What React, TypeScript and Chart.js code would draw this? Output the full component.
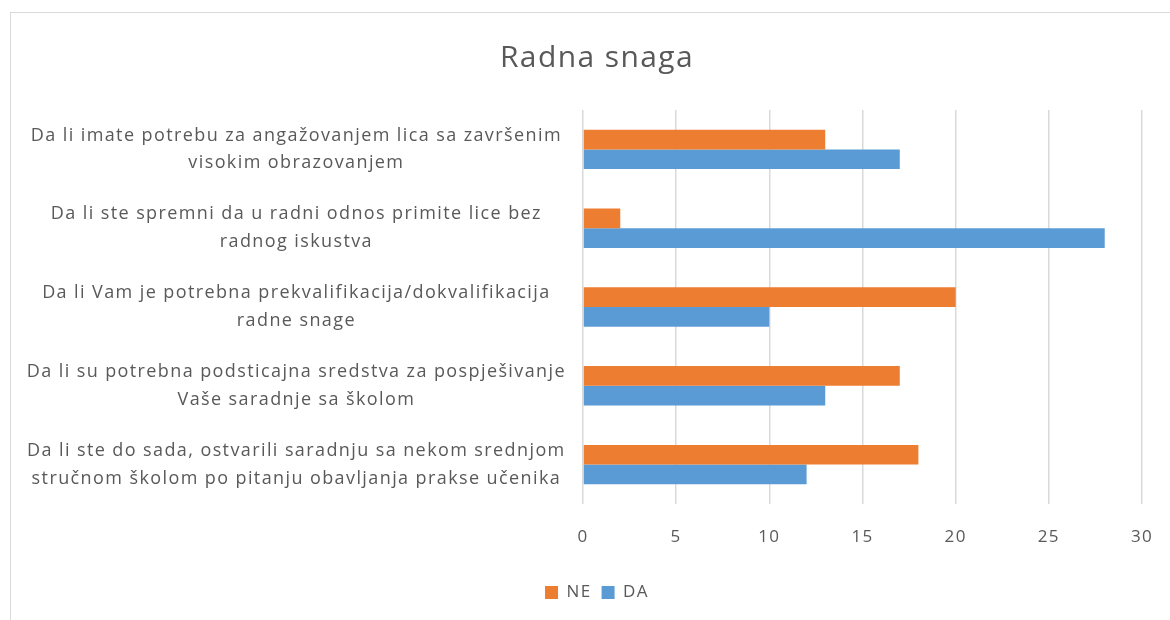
import React, { useEffect, useRef } from "react";
import { Chart, registerables } from "chart.js";

Chart.register(...registerables);

const titleText = "Radna snaga";
const categories: string[][] = [
  ["Da li imate potrebu za angažovanjem lica sa završenim", "visokim obrazovanjem"],
  ["Da li ste spremni da u radni odnos primite lice bez", "radnog iskustva"],
  ["Da li Vam je potrebna prekvalifikacija/dokvalifikacija", "radne snage"],
  ["Da li su potrebna podsticajna sredstva za pospješivanje", "Vaše saradnje sa školom"],
  ["Da li ste do sada, ostvarili saradnju sa nekom srednjom", "stručnom školom po pitanju obavljanja prakse učenika"],
];
const neValues = [13, 2, 20, 17, 18];
const daValues = [17, 28, 10, 13, 12];
const seriesNames = ["NE", "DA"];
const axisMin = 0;
const axisMax = 30;
const axisStep = 5;

const FONT = "'Open Sans', 'Noto Sans', sans-serif";
const TEXT = "#595959";
const GRID = "#d9d9d9";
const LETTER_SPACING = "1.4px";

const spacingPlugin = {
  id: "letterSpacing",
  beforeUpdate(chart: any) {
    chart.ctx.letterSpacing = LETTER_SPACING;
  },
  beforeDraw(chart: any) {
    chart.ctx.letterSpacing = LETTER_SPACING;
  },
};

export default function App() {
  const ref = useRef<HTMLCanvasElement | null>(null);

  useEffect(() => {
    if (!ref.current) return;
    const chart = new Chart(ref.current, {
      type: "bar",
      data: {
        labels: categories,
        datasets: [
          {
            label: seriesNames[0],
            data: neValues,
            backgroundColor: "#ED7D31",
            categoryPercentage: 0.5,
            barPercentage: 1.0,
          },
          {
            label: seriesNames[1],
            data: daValues,
            backgroundColor: "#5B9BD5",
            categoryPercentage: 0.5,
            barPercentage: 1.0,
          },
        ],
      },
      plugins: [spacingPlugin],
      options: {
        indexAxis: "y",
        responsive: false,
        animation: false,
        devicePixelRatio: 1,
        layout: { padding: { left: 52, right: 28, top: 0, bottom: 9 } },
        plugins: {
          title: {
            display: true,
            text: titleText,
            color: TEXT,
            font: { family: FONT, size: 30, weight: "normal" },
            padding: { top: 40, bottom: 34 },
          },
          legend: {
            position: "bottom",
            labels: {
              color: TEXT,
              font: { family: FONT, size: 17 },
              boxWidth: 13,
              boxHeight: 13,
              padding: 10,
            },
          },
          tooltip: { enabled: false },
        },
        scales: {
          x: {
            min: axisMin,
            max: axisMax,
            ticks: {
              stepSize: axisStep,
              color: TEXT,
              font: { family: FONT, size: 17 },
              padding: 23,
            },
            grid: { color: GRID, lineWidth: 1.5, drawTicks: false },
            border: { display: false },
            afterFit: (scale: any) => {
              scale.height = 70;
              scale.paddingRight = 12;
              scale.paddingLeft = 12;
            },
          },
          y: {
            ticks: {
              color: TEXT,
              font: { family: FONT, size: 18, lineHeight: 1.55 },
              crossAlign: "center",
              padding: 9,
              autoSkip: false,
            },
            grid: { display: false },
            border: { display: false },
            afterFit: (scale: any) => {
              scale.width = 583 - 52;
              scale._computeLabelArea = () => undefined;
            },
          },
        },
      },
    } as any);
    return () => chart.destroy();
  }, []);

  return (
    <div style={{ position: "fixed", left: 0, top: 0, width: 1170, height: 620, background: "#fff", overflow: "hidden" }}>
      <div
        style={{
          position: "absolute",
          left: 10,
          top: 12,
          width: 1200,
          height: 700,
          border: "1px solid #d9d9d9",
          boxSizing: "border-box",
        }}
      />
      <canvas ref={ref} width={1170} height={620} style={{ position: "absolute", left: 0, top: 0 }} />
    </div>
  );
}
